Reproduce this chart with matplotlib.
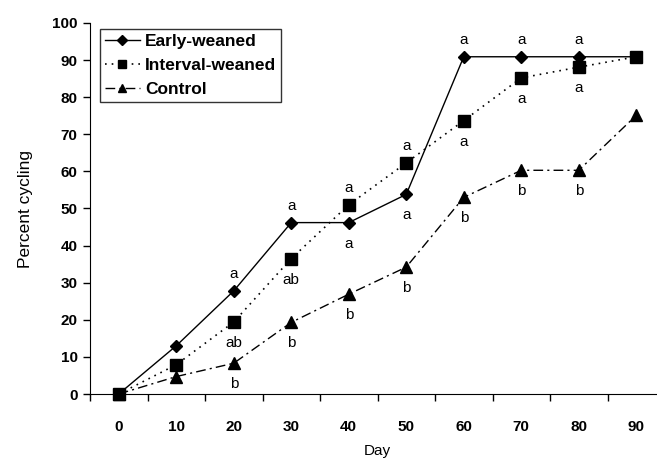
import matplotlib.pyplot as plt
import numpy as np

plt.rcParams['font.family'] = ['Liberation Sans', 'DejaVu Sans']

# Dữ liệu
days = ['0', '10', '20', '30', '40', '50', '60', '70', '80', '90']
early = [0, 13.0, 27.8, 46.2, 46.2, 53.8, 90.9, 90.9, 90.9, 90.9]
interval = [0, 7.9, 19.4, 36.5, 51.0, 62.3, 73.7, 85.2, 88.1, 90.9]
control = [0, 4.7, 8.3, 19.3, 26.9, 34.2, 53.0, 60.3, 60.3, 75.1]

# Chữ cái thống kê và vị trí (trên/dưới điểm)
early_labels = ['', '', 'a', 'a', 'a', 'a', 'a', 'a', 'a', '']
early_pos = ['', '', 'up', 'up', 'down', 'down', 'up', 'up', 'up', '']
interval_labels = ['', '', 'ab', 'ab', 'a', 'a', 'a', 'a', 'a', '']
interval_pos = ['', '', 'down', 'down', 'up', 'up', 'down', 'down', 'down', '']
control_labels = ['', '', 'b', 'b', 'b', 'b', 'b', 'b', 'b', '']
control_pos = ['', '', 'down', 'down', 'down', 'down', 'down', 'down', 'down', '']

fig = plt.figure(figsize=(6.57, 4.61), dpi=100)
ax = fig.add_axes([90/657, 67/461, 575/657, 371/461])

x = np.arange(len(days))
ax.plot(x, early, color='black', lw=1, ls='-', marker='D', ms=6,
        label='Early-weaned', clip_on=False, zorder=3)
ax.plot(x, interval, color='black', lw=1.2, ls=(0, (1, 3)), marker='s', ms=8,
        label='Interval-weaned', clip_on=False, zorder=3)
ax.plot(x, control, color='black', lw=1, ls=(0, (7, 3, 1.5, 3)), marker='^', ms=8,
        label='Control', clip_on=False, zorder=3)

# Chữ cái trên/dưới các điểm
for vals, labs, pos in [(early, early_labels, early_pos),
                        (interval, interval_labels, interval_pos),
                        (control, control_labels, control_pos)]:
    for i in range(len(days)):
        if labs[i]:
            off = 17 if pos[i] == 'up' else -21
            ax.annotate(labs[i], (x[i], vals[i]), xytext=(0, off),
                        textcoords='offset pixels',
                        ha='center', va='center', fontsize=11)

ax.set_xlim(-0.5, 9.5)
ax.set_ylim(0, 100)
ax.set_yticks(range(0, 101, 10))
ax.set_xticks(x)
ax.set_xticklabels(days)
ax.set_xticks(np.arange(-0.5, 10, 1), minor=True)
ax.tick_params(axis='x', which='major', length=0, pad=19)
ax.tick_params(axis='x', which='minor', length=5, width=1, direction='out')
ax.tick_params(axis='y', length=5, width=1, direction='out', pad=4)
for lab in ax.get_xticklabels() + ax.get_yticklabels():
    lab.set_fontweight('bold')
    lab.set_fontsize(11)

ax.spines['top'].set_visible(False)
ax.spines['right'].set_visible(False)

ax.set_xlabel('Day', fontsize=11, labelpad=7)
ax.set_ylabel('Percent cycling', fontsize=12.5, labelpad=14)

leg = ax.legend(loc='upper left', bbox_to_anchor=(0.017, 0.984), borderaxespad=0,
                frameon=True, fancybox=False, edgecolor='black', handlelength=2.0,
                handletextpad=0.3, borderpad=0.3, labelspacing=0.5, markerscale=0.8,
                prop={'weight': 'bold', 'size': 12.5})
leg.get_frame().set_linewidth(1)

plt.savefig('out.png', dpi=100)
plt.close()
